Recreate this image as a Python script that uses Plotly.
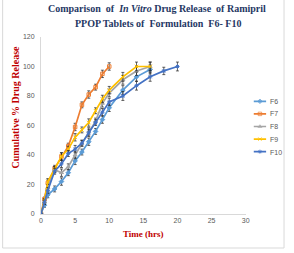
import plotly.graph_objects as go

time = [0, 0.5, 1, 2, 3, 4, 5, 6, 7, 8, 9, 10, 12, 14, 16, 18, 20]
f6 = [0, 6, 13, 17, 22, 28, 36, 42, 49, 56, 64, 72, 84, 93, 98]
f7 = [0, 10, 21, 31, 39, 46, 59, 74, 81, 86, 95, 100]
f8 = [0, 8, 18, 30, 28, 32, 40, 48, 56, 63, 75, 82, 91, 97, 100]
f9 = [0, 9, 22, 30, 39, 44, 52, 57, 62, 70, 78, 84, 93, 100, 100]
f10 = [0, 8, 16, 29, 34, 41, 44, 48, 55, 62, 69, 76, 80, 87, 93, 97, 100]
err = [0, 1.5, 2, 2, 2.5, 2, 2.5, 2, 2.5, 2, 2.5, 2.5, 3, 3, 3, 2.5, 3]

names = ["F6", "F7", "F8", "F9", "F10"]
series = [f6, f7, f8, f9, f10]
colors = ["#5B9BD5", "#ED7D31", "#A5A5A5", "#FFC000", "#4472C4"]
symbols = ["diamond", "square-open", "triangle-up", "x-thin-open", "asterisk-open"]

W, H = 294, 253
L, R, T, B = 41, 4, 37, 39
pw, ph = W - L - R, H - T - B

def px(x):
    return (x - L) / pw

def py(y):
    return (H - B - y) / ph

fig = go.Figure()
for n, s, c, m in zip(names, series, colors, symbols):
    fig.add_trace(go.Scatter(
        x=time[:len(s)], y=s, mode="lines+markers", name=n,
        line=dict(color=c, width=1.7),
        marker=dict(symbol=m, size=3.5, color=c, line=dict(color=c, width=1)),
        error_y=dict(type="data", array=err[:len(s)], color="#222222", thickness=0.7, width=1.5),
        showlegend=False,
    ))

# manual legend on an overlay axis
leg_y = [4, 3, 2, 1, 0]
leg_top, leg_bot = 101, 152
for i, (n, c, m, yy) in enumerate(zip(names, colors, symbols, leg_y)):
    fig.add_trace(go.Scatter(
        x=[0, 0.5, 1], y=[yy, yy, yy], mode="lines+markers", xaxis="x2", yaxis="y2",
        line=dict(color=c, width=1.7), marker=dict(symbol=m, size=[0, 3.5, 0], color=c,
                                                    line=dict(color=c, width=1)),
        showlegend=False, hoverinfo="skip",
    ))
    ypix = leg_top + i * (leg_bot - leg_top) / 4
    fig.add_annotation(x=px(272), y=py(ypix), xref="paper", yref="paper", text=n, showarrow=False,
                       xanchor="left", yanchor="middle",
                       font=dict(family="Liberation Sans", size=7, color="#595959"))

fig.update_layout(
    width=W, height=H,
    margin=dict(l=L, r=R, t=T, b=B),
    paper_bgcolor="white", plot_bgcolor="rgba(0,0,0,0)",
    xaxis=dict(domain=[0, px(249)], range=[0, 30], tickvals=[0, 5, 10, 15, 20, 25, 30],
               showgrid=False, zeroline=False,
               showline=True, linecolor="#D9D9D9", linewidth=1, ticks="",
               tickfont=dict(family="Liberation Sans", size=7, color="#595959")),
    yaxis=dict(range=[0, 120], tickvals=[0, 20, 40, 60, 80, 100, 120], showgrid=False, zeroline=False,
               showline=True, linecolor="#D9D9D9", linewidth=1, ticks="", ticklabelstandoff=4,
               tickfont=dict(family="Liberation Sans", size=7, color="#595959")),
    xaxis2=dict(domain=[px(257), px(270)], range=[0, 1], visible=False, anchor="y2"),
    yaxis2=dict(domain=[py(158), py(95)], range=[-0.5, 4.5], visible=False, anchor="x2"),
    showlegend=False,
)

title_font = dict(family="Liberation Serif", size=10, color="#1F3864")
fig.add_annotation(x=px(159), y=py(9), xref="paper", yref="paper", showarrow=False,
                   text="<b>Comparison  of  <i>In Vitro</i> Drug Release  of Ramipril</b>",
                   font=title_font, xanchor="center", yanchor="middle")
fig.add_annotation(x=px(160), y=py(24), xref="paper", yref="paper", showarrow=False,
                   text="<b>PPOP Tablets of  Formulation  F6- F10</b>",
                   font=title_font, xanchor="center", yanchor="middle")
fig.add_annotation(x=px(15), y=py(107), xref="paper", yref="paper", showarrow=False,
                   text="<b>Cumulative % Drug Release</b>", textangle=-90,
                   font=dict(family="Liberation Serif", size=10, color="#C00000"),
                   xanchor="center", yanchor="middle")
fig.add_annotation(x=px(145), y=py(234), xref="paper", yref="paper", showarrow=False,
                   text="<b>Time (hrs)</b>",
                   font=dict(family="Liberation Serif", size=9, color="#C00000"),
                   xanchor="center", yanchor="middle")

fig.add_shape(type="rect", xref="paper", yref="paper",
              x0=px(2), x1=px(288), y0=py(248), y1=py(-2),
              line=dict(color="#D9D9D9", width=1))

fig.write_html("out.html")
